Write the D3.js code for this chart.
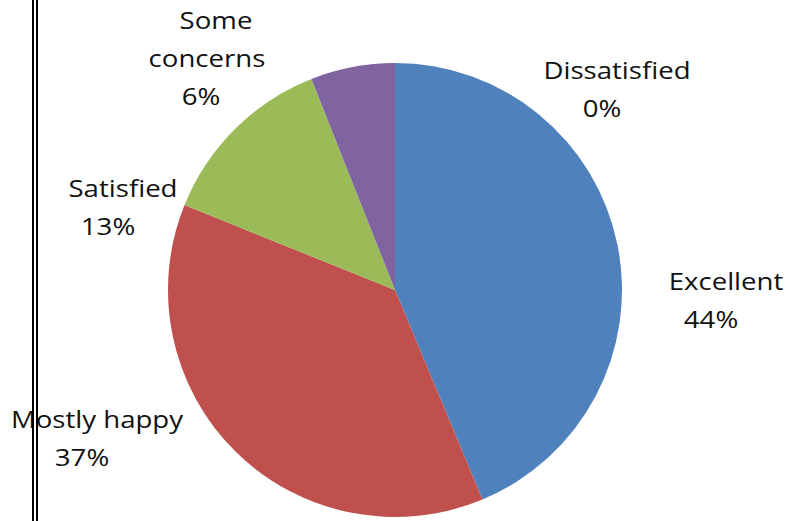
<!DOCTYPE html>
<html>
<head>
<meta charset="utf-8">
<script src="https://cdn.jsdelivr.net/npm/d3@7"></script>
<style>
  body { margin: 0; background: #fff; }
  svg { display: block; }
</style>
</head>
<body>
<div id="chart"></div>
<script>
// data (clockwise from 12 o'clock)
const categories = ["Excellent", "Mostly happy", "Satisfied", "Some concerns", "Dissatisfied"];
const values = [43.7, 37.4, 12.9, 6.0, 0];
const labelLines = [["Excellent"], ["Mostly happy"], ["Satisfied"], ["Some", "concerns"], ["Dissatisfied"]];

const width = 790, height = 521;
const cx = 395, cy = 290, radius = 227;

const color = d3.scaleOrdinal()
    .domain(categories)
    .range(["#4F81BD", "#C0504D", "#9BBB59", "#8064A2", "#F79646"]);

// where each label's first line sits (centre x, baseline y)
const labelPos = {
    "Excellent": [726, 290],
    "Mostly happy": [97, 428],
    "Satisfied": [123, 197],
    "Some concerns": [216, 29],
    "Dissatisfied": [617, 79]
};
const lineGap = 38;
const pctShift = -15;

const svg = d3.select("#chart")
    .append("svg")
    .attr("width", width)
    .attr("height", height);

svg.append("rect").attr("width", width).attr("height", height).attr("fill", "#fff");

const pie = d3.pie().sort(null).value(d => d[1]);
const arc = d3.arc().innerRadius(0).outerRadius(radius);

const data_ready = pie(categories.map((c, i) => [c, values[i]]));

const g = svg.append("g").attr("transform", `translate(${cx},${cy})`);

g.selectAll("path")
    .data(data_ready)
    .join("path")
    .attr("d", arc)
    .attr("fill", d => color(d.data[0]));

// labels (text is a little wide in the original, so stretch it)
const labels = svg.append("g")
    .style("font-family", "'Open Sans', 'Liberation Sans', sans-serif")
    .style("font-size", "23px")
    .attr("fill", "#111");

data_ready.forEach((d, i) => {
    const name = d.data[0];
    const [x, y] = labelPos[name];
    const lines = labelLines[i];
    const t = labels.append("text")
        .attr("text-anchor", "middle")
        .attr("transform", `translate(${x},${y}) scale(1.2,1)`);
    lines.forEach((ln, k) => {
        t.append("tspan").attr("x", (k > 0 ? -9 : 0) / 1.2).attr("y", k * lineGap).text(ln);
    });
    t.append("tspan")
        .attr("x", pctShift / 1.2)
        .attr("y", lines.length * lineGap)
        .text(Math.round(d.data[1]) + "%");
});

// double rule on the left edge
svg.append("rect").attr("x", 32).attr("y", 0).attr("width", 6).attr("height", 521).attr("fill", "#000");
svg.append("rect").attr("x", 34).attr("y", 0).attr("width", 2).attr("height", 521).attr("fill", "#fff");
</script>
</body>
</html>
